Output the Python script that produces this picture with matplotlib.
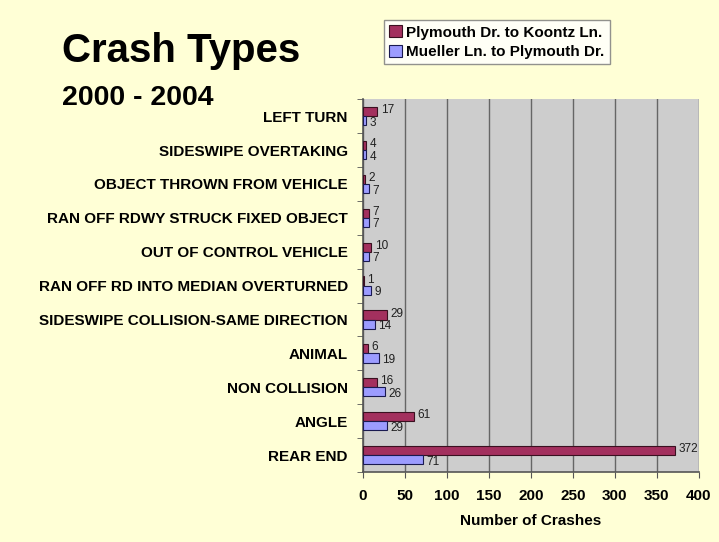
import numpy as np
import matplotlib
matplotlib.use("Agg")
import matplotlib.pyplot as plt

plt.rcParams['font.family'] = ['Liberation Sans', 'DejaVu Sans']

categories = ["LEFT TURN", "SIDESWIPE OVERTAKING", "OBJECT THROWN FROM VEHICLE",
              "RAN OFF RDWY STRUCK FIXED OBJECT", "OUT OF CONTROL VEHICLE",
              "RAN OFF RD INTO MEDIAN OVERTURNED", "SIDESWIPE COLLISION-SAME DIRECTION",
              "ANIMAL", "NON COLLISION", "ANGLE", "REAR END"]
plymouth = [17, 4, 2, 7, 10, 1, 29, 6, 16, 61, 372]
mueller = [3, 4, 7, 7, 7, 9, 14, 19, 26, 29, 71]
series_names = ["Plymouth Dr. to Koontz Ln.", "Mueller Ln. to Plymouth Dr."]
xticks = [0, 50, 100, 150, 200, 250, 300, 350, 400]

bg = '#FFFFD6'
fig = plt.figure(figsize=(7.19, 5.42), dpi=100, facecolor=bg)
ax = fig.add_axes([0.505, 0.129, 0.467, 0.688])
ax.set_facecolor('#CDCDCD')

y = np.arange(len(categories))
h = 0.27
b1 = ax.barh(y - h / 2, plymouth, height=h, color='#A3305E', edgecolor='#3a1020', linewidth=0.8,
             label=series_names[0], zorder=3)
b2 = ax.barh(y + h / 2, mueller, height=h, color='#9C9CFF', edgecolor='#1a1a50', linewidth=0.8,
             label=series_names[1], zorder=3)

for bars, vals, dy in [(b1, plymouth, 1), (b2, mueller, -1.5)]:
    for rect, v in zip(bars, vals):
        ax.annotate(str(v), (rect.get_width(), rect.get_y() + rect.get_height() / 2),
                    xytext=(2.5, dy), textcoords='offset points', va='center', ha='left',
                    fontsize=8.5, color='#202020', zorder=4)

ax.set_xlim(0, 400)
ax.set_ylim(len(categories) - 0.5, -0.5)
ax.set_xticks(xticks)
ax.set_xticklabels([str(t) for t in xticks], fontsize=11, fontweight='bold')
ax.set_yticks(y)
ax.set_yticklabels(categories, fontsize=11, fontweight='bold')
ax.tick_params(axis='y', length=0, pad=11)
ax.set_yticks(np.arange(len(categories) + 1) - 0.5, minor=True)
ax.tick_params(axis='y', which='minor', length=4, color='#555555')
ax.tick_params(axis='x', length=4, color='#555555', pad=8)
ax.grid(axis='x', color='#666666', linewidth=1.0, zorder=1)
for s in ['top', 'right']:
    ax.spines[s].set_visible(False)
for s in ['left', 'bottom']:
    ax.spines[s].set_color('#555555')
    ax.spines[s].set_linewidth(1.2)
ax.set_xlabel("Number of Crashes", fontsize=11, fontweight='bold', labelpad=8)

fig.text(0.086, 0.885, "Crash Types", fontsize=29, fontweight='bold', ha='left', va='baseline')
fig.text(0.086, 0.806, "2000 - 2004", fontsize=20.5, fontweight='bold', ha='left', va='baseline')

leg = fig.legend(handles=[b1, b2], loc='upper left', bbox_to_anchor=(0.534, 0.963),
                 fontsize=11, frameon=True, fancybox=False, handlelength=0.8, handleheight=0.8,
                 handletextpad=0.3, borderpad=0.35, labelspacing=0.35, borderaxespad=0)
for t in leg.get_texts():
    t.set_fontweight('bold')
leg.get_frame().set_edgecolor('#777777')
leg.get_frame().set_facecolor('white')

fig.savefig("out.png", dpi=100, facecolor=bg)
